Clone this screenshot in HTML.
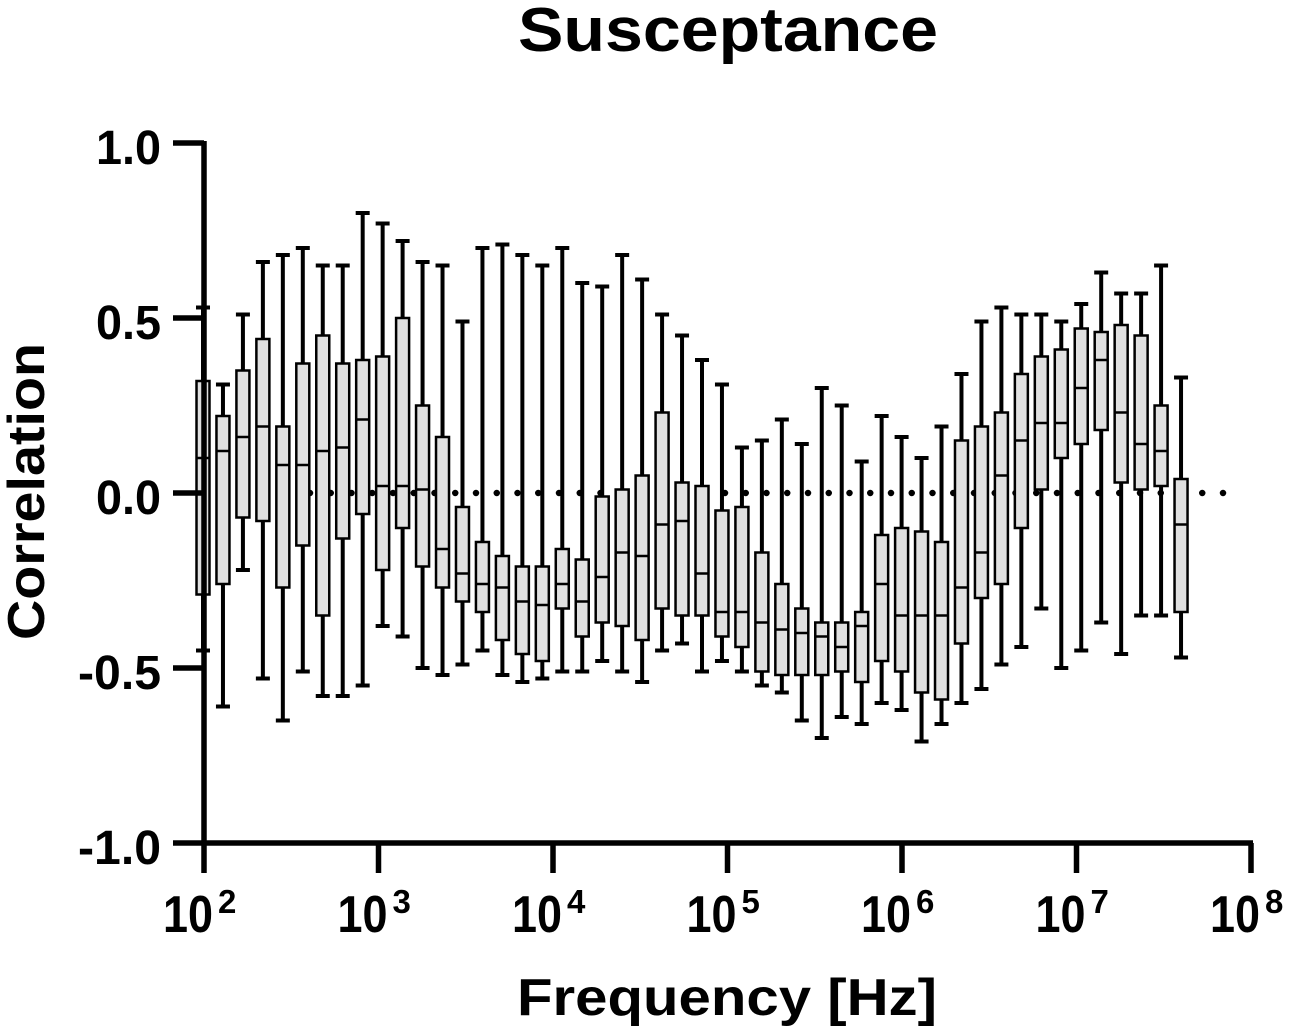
<!DOCTYPE html>
<html><head><meta charset="utf-8"><style>
html,body{margin:0;padding:0;background:#fff;}
svg{display:block;font-family:"Liberation Sans",Arial,sans-serif;font-weight:bold;}
</style></head>
<body>
<svg id="chart" width="1293" height="1033" viewBox="0 0 1293 1033" xmlns="http://www.w3.org/2000/svg">
<text x="518" y="51" font-size="62" textLength="420" lengthAdjust="spacingAndGlyphs">Susceptance</text>
<text x="517" y="1015" font-size="52" textLength="420" lengthAdjust="spacingAndGlyphs">Frequency [Hz]</text>
<text transform="translate(44,640) rotate(-90)" font-size="52" textLength="297" lengthAdjust="spacingAndGlyphs">Correlation</text>
<g id="plot"></g>
</svg>
<script>
// Box statistics per frequency bin (whisker max, Q3, median, Q1, whisker min)
const binIndex = Array.from({length:50},(_,i)=>i);
const whiskerMax = [0.53,0.31,0.51,0.66,0.68,0.70,0.65,0.65,0.80,0.77,0.72,0.66,0.65,0.49,0.70,0.71,0.68,0.65,0.70,0.60,0.59,0.68,0.61,0.51,0.45,0.38,0.31,0.13,0.15,0.21,0.14,0.30,0.25,0.09,0.22,0.16,0.10,0.19,0.34,0.49,0.53,0.51,0.51,0.49,0.54,0.63,0.57,0.57,0.65,0.33];
const q3 = [0.32,0.22,0.35,0.44,0.19,0.37,0.45,0.37,0.38,0.39,0.50,0.25,0.16,-0.04,-0.14,-0.18,-0.21,-0.21,-0.16,-0.19,-0.01,0.01,0.05,0.23,0.03,0.02,-0.05,-0.04,-0.17,-0.26,-0.33,-0.37,-0.37,-0.34,-0.12,-0.10,-0.11,-0.14,0.15,0.19,0.23,0.34,0.39,0.41,0.47,0.46,0.48,0.45,0.25,0.04];
const median = [0.10,0.12,0.16,0.19,0.08,0.08,0.12,0.13,0.21,0.02,0.02,0.01,-0.16,-0.23,-0.26,-0.27,-0.31,-0.32,-0.26,-0.31,-0.24,-0.17,-0.18,-0.09,-0.08,-0.23,-0.34,-0.34,-0.37,-0.39,-0.40,-0.41,-0.44,-0.38,-0.26,-0.35,-0.35,-0.35,-0.27,-0.17,0.05,0.15,0.20,0.20,0.30,0.38,0.23,0.14,0.12,-0.09];
const q1 = [-0.29,-0.26,-0.07,-0.08,-0.27,-0.15,-0.35,-0.13,-0.06,-0.22,-0.10,-0.21,-0.27,-0.31,-0.34,-0.42,-0.46,-0.48,-0.33,-0.41,-0.37,-0.38,-0.42,-0.33,-0.35,-0.35,-0.41,-0.44,-0.51,-0.52,-0.52,-0.52,-0.51,-0.54,-0.48,-0.51,-0.57,-0.59,-0.43,-0.30,-0.26,-0.10,0.01,0.10,0.14,0.18,0.03,0.01,0.02,-0.34];
const whiskerMin = [-0.45,-0.61,-0.22,-0.53,-0.65,-0.51,-0.58,-0.58,-0.55,-0.38,-0.41,-0.50,-0.52,-0.49,-0.45,-0.52,-0.54,-0.53,-0.51,-0.51,-0.48,-0.51,-0.54,-0.45,-0.43,-0.51,-0.48,-0.51,-0.55,-0.57,-0.65,-0.70,-0.64,-0.66,-0.60,-0.62,-0.71,-0.66,-0.60,-0.56,-0.49,-0.44,-0.33,-0.50,-0.45,-0.37,-0.46,-0.35,-0.35,-0.47];
const yTicks = [1.0,0.5,0.0,-0.5,-1.0];
const yTickLabels = ["1.0","0.5","0.0","-0.5","-1.0"];
const xDecades = [2,3,4,5,6,7,8];

const NS="http://www.w3.org/2000/svg";
const g=document.getElementById('plot');
const X0=204, X1=1251, Y0=143, Y1=843;
function yS(v){return Y1-(v+1)/2*(Y1-Y0);}
function xDec(d){return X0+(d-2)/6*(X1-X0);}
function xBin(i){return 203+i*19.96;}
function mk(tag,attrs){const e=document.createElementNS(NS,tag);for(const k in attrs)e.setAttribute(k,attrs[k]);g.appendChild(e);return e;}

let zl=mk('line',{x1:310,x2:1232,y1:yS(0),y2:yS(0),stroke:'#000','stroke-width':6.5,'stroke-linecap':'round','stroke-dasharray':'0 20.75'});



binIndex.forEach(i=>{
  const cx=xBin(i), w=18;
  const grp=document.createElementNS(NS,'g');
  
  
  g.appendChild(grp);
  const add=(tag,a)=>{const e=document.createElementNS(NS,tag);for(const k in a)e.setAttribute(k,a[k]);grp.appendChild(e);return e;};
  add('line',{x1:cx,x2:cx,y1:yS(whiskerMax[i]),y2:yS(whiskerMin[i]),stroke:'#000','stroke-width':4});
  add('line',{x1:cx-7,x2:cx+7,y1:yS(whiskerMax[i]),y2:yS(whiskerMax[i]),stroke:'#000','stroke-width':4});
  add('line',{x1:cx-7,x2:cx+7,y1:yS(whiskerMin[i]),y2:yS(whiskerMin[i]),stroke:'#000','stroke-width':4});
  add('rect',{x:cx-w/2+2.5,y:yS(q3[i]),width:w-5,height:yS(q1[i])-yS(q3[i]),fill:'#e0e0e0',stroke:'#000','stroke-width':2.5});
  add('line',{x1:cx-w/2+2.5,x2:cx+w/2-2.5,y1:yS(median[i]),y2:yS(median[i]),stroke:'#000','stroke-width':2.5});
});

let ya=mk('line',{x1:X0,x2:X0,y1:Y0-2,y2:Y1+2,stroke:'#000','stroke-width':5.5});


let xa=mk('line',{x1:X0-2,x2:X1+2,y1:Y1,y2:Y1,stroke:'#000','stroke-width':5.5});



yTicks.forEach((v,k)=>{
  const t=mk('line',{x1:173,x2:X0,y1:yS(v),y2:yS(v),stroke:'#000','stroke-width':5.5});
  
  
  const lab=yTickLabels[k];
  const tl=lab.startsWith('-')?83:65;
  const lb=mk('text',{x:161-tl,y:yS(v)+21,'font-size':48,textLength:tl,lengthAdjust:'spacingAndGlyphs'});
  lb.textContent=lab;
  
  
});
xDecades.forEach(d=>{
  const x=xDec(d);
  const t=mk('line',{x1:x,x2:x,y1:Y1,y2:873,stroke:'#000','stroke-width':5.5});
  
  
  const lb=mk('text',{x:x-41,y:932,'font-size':52});
  
  
  const base=document.createElementNS(NS,'tspan');base.setAttribute('textLength','50');base.setAttribute('lengthAdjust','spacingAndGlyphs');base.textContent='10';lb.appendChild(base);
  const sup=document.createElementNS(NS,'tspan');sup.setAttribute('dx','5');sup.setAttribute('dy','-19');sup.setAttribute('font-size','33');sup.textContent=String(d);lb.appendChild(sup);
});
</script>
</body></html>
